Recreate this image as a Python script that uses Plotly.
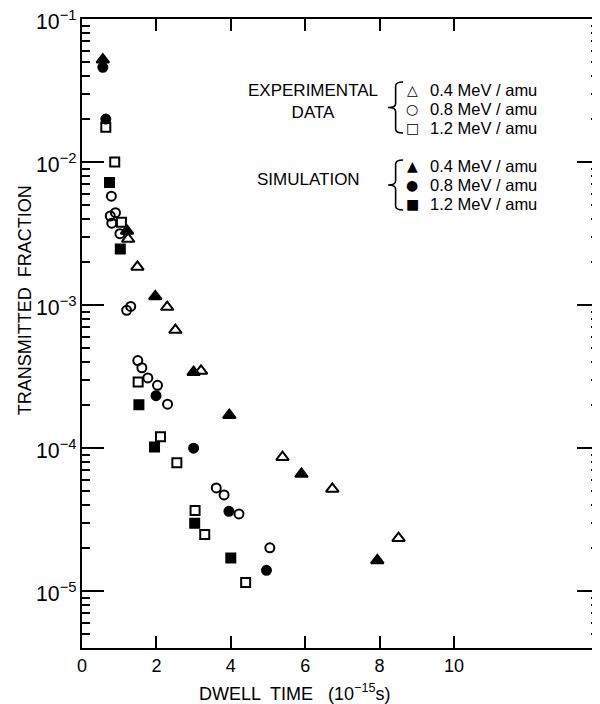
import plotly.graph_objects as go

# ---- data ----
exp04_t = [1.24, 1.49, 2.29, 2.51, 3.20, 5.39, 6.73, 8.51]
exp04_f = [2.9e-3, 1.85e-3, 9.7e-4, 6.7e-4, 3.47e-4, 8.65e-5, 5.19e-5, 2.35e-5]

sim04_t = [0.56, 1.21, 1.97, 3.00, 3.96, 5.90, 7.94]
sim04_f = [5.2e-2, 3.3e-3, 1.15e-3, 3.4e-4, 1.7e-4, 6.6e-5, 1.64e-5]

exp08_t = [0.79, 0.90, 0.76, 0.80, 1.02, 1.31, 1.20, 1.50, 1.61, 1.77, 2.03, 2.30,
           3.61, 3.82, 4.22, 5.05]
exp08_f = [5.78e-3, 4.43e-3, 4.2e-3, 3.74e-3, 3.16e-3, 9.8e-4, 9.2e-4, 4.1e-4,
           3.65e-4, 3.1e-4, 2.75e-4, 2.03e-4, 5.27e-5, 4.71e-5, 3.47e-5, 2.01e-5]

sim08_t = [0.56, 0.64, 1.99, 3.00, 3.95, 4.96]
sim08_f = [4.6e-2, 2.0e-2, 2.33e-4, 1.0e-4, 3.62e-5, 1.40e-5]

exp12_t = [0.64, 0.88, 1.06, 1.51, 2.11, 2.55, 3.04, 3.30, 4.40]
exp12_f = [1.75e-2, 1.0e-2, 3.8e-3, 2.9e-4, 1.2e-4, 7.9e-5, 3.66e-5, 2.49e-5, 1.15e-5]

sim12_t = [0.74, 1.03, 1.53, 1.95, 3.03, 4.00]
sim12_f = [7.2e-3, 2.47e-3, 2.01e-4, 1.02e-4, 2.99e-5, 1.71e-5]

x_tickvals = [0, 2, 4, 6, 8, 10]
labels = ["0.4 MeV / amu", "0.8 MeV / amu", "1.2 MeV / amu"]
exp_glyphs = ["△", "○", "□"]
sim_glyphs = ["▲", "●", "■"]
group_titles = ["EXPERIMENTAL<br>DATA", "SIMULATION"]

FONT = "Liberation Sans, Arial, sans-serif"

fig = go.Figure()

series = [
    (exp04_t, exp04_f, "triangle-up-open", 11, labels[0]),
    (exp08_t, exp08_f, "circle-open", 9, labels[1]),
    (exp12_t, exp12_f, "square-open", 9, labels[2]),
    (sim04_t, sim04_f, "triangle-up", 11, labels[0]),
    (sim08_t, sim08_f, "circle", 9, labels[1]),
    (sim12_t, sim12_f, "square", 9, labels[2]),
]
for xs, ys, sym, sz, name in series:
    fig.add_trace(go.Scatter(
        x=xs, y=ys, mode="markers", name=name, showlegend=False,
        marker=dict(symbol=sym, size=sz, color="black",
                    line=dict(color="black", width=2)),
    ))

fig.update_xaxes(
    range=[0, 13.9], tickmode="array", tickvals=x_tickvals,
    ticks="inside", ticklen=12, tickwidth=2, tickcolor="black",
    showline=True, linewidth=2, linecolor="black", mirror="ticks",
    showgrid=False, zeroline=False, automargin=False,
    tickfont=dict(family=FONT, size=18, color="black"),
)
fig.update_yaxes(
    type="log", range=[-5.397, -0.9995], dtick=1, exponentformat="power",
    ticks="inside", ticklen=22, tickwidth=2, tickcolor="black",
    minor=dict(dtick="D1", ticks="inside", ticklen=8, tickwidth=1.5,
               tickcolor="black", showgrid=False),
    showline=True, linewidth=2, linecolor="black", mirror="ticks",
    showgrid=False, zeroline=False, ticklabeloverflow="allow",
    ticklabelshift=2, automargin=False,
    tickfont=dict(family=FONT, size=17, color="black"),
)

# page-pixel -> paper helpers (plot area spans x 81.7..599, y 19..648 on the page)
def px2paper_x(px):
    return (px - 81.7) / 517.3

def px2paper_y(py):
    return (648 - py) / 629

def ann(text, px, py, size=17, xanchor="center", family=FONT, **kw):
    fig.add_annotation(xref="paper", yref="paper", showarrow=False,
                       text=text, x=px2paper_x(px), y=px2paper_y(py),
                       font=dict(family=family, size=size, color="black"),
                       xanchor=xanchor, yanchor="middle", **kw)

ann("DWELL  TIME   (10<sup>−15</sup>s)", 294, 692, size=18)
ann("TRANSMITTED  FRACTION", 25, 300, size=18, textangle=-90)
ann(group_titles[0], 313, 102, size=17)
ann(group_titles[1], 308, 179, size=17)

exp_rows = [90, 109, 128]
sim_rows = [166, 185, 204]
for g, lab, ry in zip(exp_glyphs, labels, exp_rows):
    ann(g, 412, ry, size=14, family="DejaVu Sans")
    ann(lab, 428, ry, size=16.5, xanchor="left")
for g, lab, ry in zip(sim_glyphs, labels, sim_rows):
    ann(g, 412, ry, size=14, family="DejaVu Sans")
    ann(lab, 428, ry, size=16.5, xanchor="left")

def brace(x_left, x_right, y_top, y_bot):
    xl, xr = px2paper_x(x_left), px2paper_x(x_right)
    xm = (xl + xr) / 2
    yt, yb = px2paper_y(y_top), px2paper_y(y_bot)
    ym = (yt + yb) / 2
    d = (yt - yb) * 0.08
    return (f"M {xr},{yt} Q {xm},{yt} {xm},{yt - d} "
            f"L {xm},{ym + d} Q {xm},{ym} {xl},{ym} "
            f"Q {xm},{ym} {xm},{ym - d} L {xm},{yb + d} "
            f"Q {xm},{yb} {xr},{yb}")

for yt, yb in [(82, 133), (160, 210)]:
    fig.add_shape(type="path", xref="paper", yref="paper",
                  path=brace(388, 403, yt, yb),
                  line=dict(color="black", width=1.6))

# the page body adds an 8 px margin, so the figure is 592 x 696
fig.update_layout(
    width=592, height=696,
    margin=dict(l=73.7, r=1, t=11, b=56),
    plot_bgcolor="white", paper_bgcolor="white",
    showlegend=False,
    font=dict(family=FONT, color="black"),
)

fig.write_html("out.html")
